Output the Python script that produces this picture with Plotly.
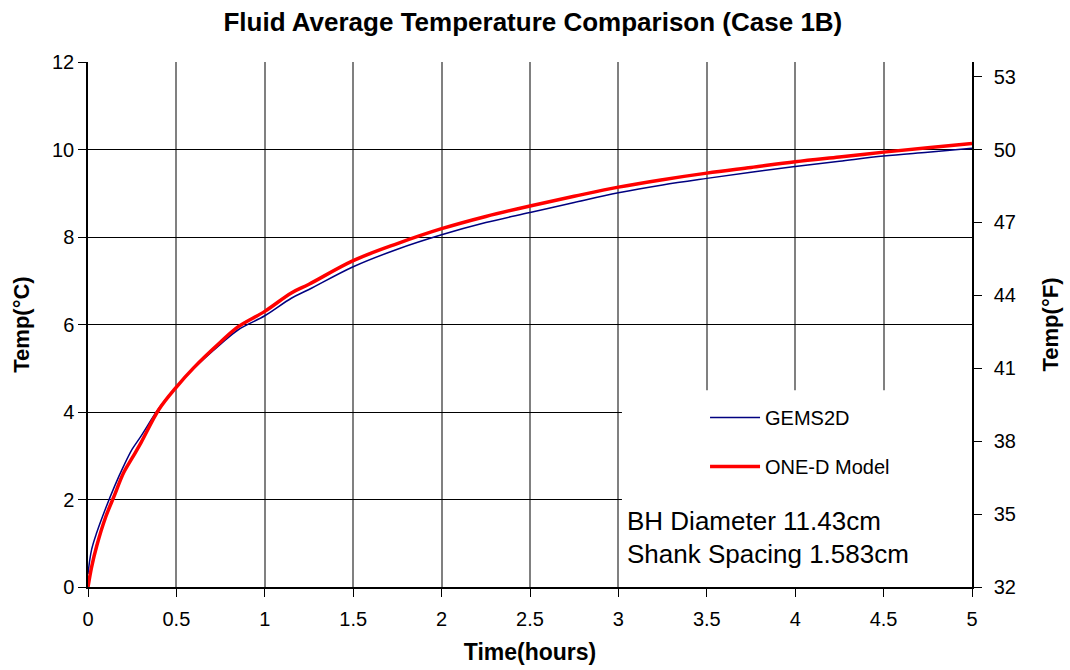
import plotly.graph_objects as go

# Time (hours)
time_h = [0.00, 0.02, 0.05, 0.10, 0.15, 0.20, 0.25, 0.30, 0.40, 0.50, 0.60, 0.75, 0.85,
          1.00, 1.15, 1.25, 1.50, 1.75, 2.00, 2.25, 2.50, 2.75, 3.00, 3.25, 3.50, 3.75,
          4.00, 4.25, 4.50, 4.75, 5.00]

# GEMS2D fluid average temperature (deg C)
gems2d = [0.30, 0.85, 1.25, 1.80, 2.30, 2.75, 3.15, 3.45, 4.08, 4.57, 5.00, 5.55, 5.88,
          6.20, 6.60, 6.80, 7.32, 7.72, 8.05, 8.33, 8.56, 8.79, 9.01, 9.19, 9.34, 9.48,
          9.61, 9.73, 9.85, 9.94, 10.03]

# ONE-D model fluid average temperature (deg C)
one_d = [0.00, 0.45, 0.95, 1.60, 2.10, 2.60, 2.95, 3.30, 4.05, 4.57, 5.02, 5.60, 5.95,
         6.30, 6.72, 6.92, 7.46, 7.85, 8.19, 8.47, 8.71, 8.93, 9.14, 9.31, 9.46, 9.59,
         9.72, 9.83, 9.94, 10.04, 10.14]

x_ticks = [0, 0.5, 1, 1.5, 2, 2.5, 3, 3.5, 4, 4.5, 5]
x_tick_text = ["0", "0.5", "1", "1.5", "2", "2.5", "3", "3.5", "4", "4.5", "5"]
yc_ticks = [0, 2, 4, 6, 8, 10, 12]
yf_ticks = [32, 35, 38, 41, 44, 47, 50, 53]

note_lines = ["BH Diameter 11.43cm", "Shank Spacing 1.583cm"]

FONT = "Liberation Sans, Arial, sans-serif"

fig = go.Figure()
fig.add_trace(go.Scatter(x=time_h, y=gems2d, mode="lines", name="GEMS2D",
                         line=dict(color="#000080", width=1.5, shape="spline"),
                         legendgroup="a"))
fig.add_trace(go.Scatter(x=time_h, y=one_d, mode="lines", name="ONE-D Model",
                         line=dict(color="#FF0000", width=3.5, shape="spline"),
                         legendgroup="b"))
# invisible trace to carry the Fahrenheit axis
fig.add_trace(go.Scatter(x=time_h, y=[c * 9 / 5 + 32 for c in one_d], yaxis="y2",
                         mode="lines", line=dict(color="rgba(0,0,0,0)", width=0),
                         showlegend=False, hoverinfo="skip"))

# white box behind legend and note
fig.add_shape(type="rect", xref="x", yref="y", x0=3.02, x1=5, y0=0, y1=4.5,
              fillcolor="white", line=dict(width=0), layer="between")

fig.add_annotation(xref="x", yref="y", x=3.04, y=1.52, text=note_lines[0],
                   showarrow=False, xanchor="left", yanchor="middle",
                   font=dict(family=FONT, size=26, color="black"))
fig.add_annotation(xref="x", yref="y", x=3.04, y=0.76, text=note_lines[1],
                   showarrow=False, xanchor="left", yanchor="middle",
                   font=dict(family=FONT, size=26, color="black"))

fig.update_layout(
    width=1070, height=670,
    margin=dict(l=88, r=98, t=62, b=83),
    paper_bgcolor="white", plot_bgcolor="white",
    font=dict(family=FONT, size=20, color="black"),
    title=dict(text="<b>Fluid Average Temperature Comparison (Case 1B)</b>",
               x=0.498, xanchor="center", y=0.968, yanchor="middle",
               font=dict(family=FONT, size=26, color="black")),
    showlegend=True,
    legend=dict(x=0.698, y=0.36, xanchor="left", yanchor="top",
                bgcolor="rgba(0,0,0,0)", traceorder="grouped", tracegroupgap=20,
                font=dict(family=FONT, size=20, color="black"),
                itemwidth=50),
    xaxis=dict(range=[0, 5], tickvals=x_ticks, ticktext=x_tick_text,
               showgrid=True, gridcolor="#808080", gridwidth=1.5,
               showline=True, linecolor="black", linewidth=1.5,
               ticks="outside", ticklen=8, tickcolor="black",
               zeroline=False, automargin=False, ticklabelstandoff=5,
               title=dict(text="<b>Time(hours)</b>", standoff=15,
                          font=dict(family=FONT, size=23))),
    yaxis=dict(range=[0, 12], tickvals=yc_ticks,
               showgrid=True, gridcolor="black", gridwidth=1,
               showline=True, linecolor="black", linewidth=1.5,
               ticks="outside", ticklen=8, tickcolor="black",
               zeroline=False, automargin=False,
               title=dict(text="<b>Temp(°C)</b>", standoff=16,
                          font=dict(family=FONT, size=22))),
    yaxis2=dict(range=[32, 53.6], tickvals=yf_ticks, overlaying="y", side="right",
                showgrid=False, zeroline=False, automargin=False,
                showline=True, linecolor="black", linewidth=1.5,
                ticks="outside", ticklen=8, tickcolor="black", ticklabelstandoff=8,
                title=dict(text="<b>Temp(°F)</b>", standoff=28,
                           font=dict(family=FONT, size=22))),
)

fig.write_html("out.html")
